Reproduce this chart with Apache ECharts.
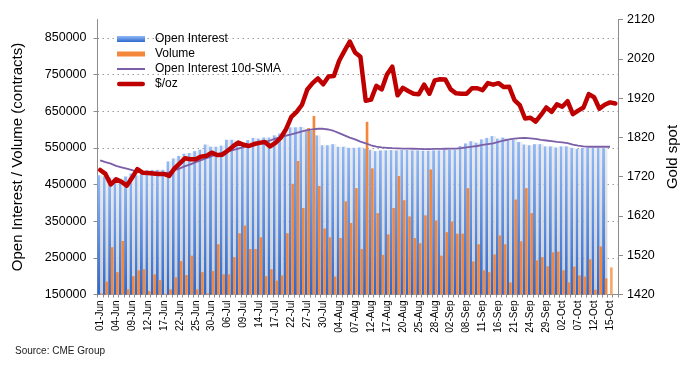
<!DOCTYPE html>
<html><head><meta charset="utf-8">
<script src="https://cdn.jsdelivr.net/npm/echarts@6/dist/echarts.min.js"></script>
<style>html,body{margin:0;padding:0;background:#fff}#c{width:696px;height:375px}</style>
</head><body><div id="c"></div>
<script>
const dates = ['01-Jun','02-Jun','03-Jun','04-Jun','05-Jun','08-Jun','09-Jun','10-Jun','11-Jun','12-Jun','15-Jun','16-Jun','17-Jun','18-Jun','19-Jun','22-Jun','23-Jun','24-Jun','25-Jun','26-Jun','29-Jun','30-Jun',
'01-Jul','02-Jul','06-Jul','07-Jul','08-Jul','09-Jul','10-Jul','13-Jul','14-Jul','15-Jul','16-Jul','17-Jul','20-Jul','21-Jul','22-Jul','23-Jul','24-Jul','27-Jul','28-Jul','29-Jul','30-Jul','31-Jul',
'03-Aug','04-Aug','05-Aug','06-Aug','07-Aug','10-Aug','11-Aug','12-Aug','13-Aug','14-Aug','17-Aug','18-Aug','19-Aug','20-Aug','21-Aug','24-Aug','25-Aug','26-Aug','27-Aug','28-Aug','31-Aug',
'01-Sep','02-Sep','03-Sep','04-Sep','08-Sep','09-Sep','10-Sep','11-Sep','14-Sep','15-Sep','16-Sep','17-Sep','18-Sep','21-Sep','22-Sep','23-Sep','24-Sep','25-Sep','28-Sep','29-Sep','30-Sep',
'01-Oct','02-Oct','05-Oct','06-Oct','07-Oct','08-Oct','09-Oct','12-Oct','13-Oct','14-Oct','15-Oct','16-Oct'];

const openInterest = [475000,472000,469000,469000,466000,472000,480000,475000,480000,489000,
490000,490000,490000,513000,521000,528000,534000,536000,541000,545000,
559000,553000,553000,556000,572000,572000,563000,560000,571000,577000,
575000,578000,578000,584000,589000,600000,606000,606000,607000,600000,
596000,584000,557000,557000,560000,553000,553000,550000,550000,551000,
548000,545000,541000,543000,543000,544000,543000,544000,544000,543000,
543000,542000,542000,543000,543000,545000,545000,545000,555000,562000,
568000,564000,573000,577000,582000,575000,578000,571000,572000,566000,
559000,557000,560000,560000,554000,554000,551000,554000,554000,550000,
547000,550000,550000,550000,550000,549000,null,null];

const volume = [153000,185000,279000,211000,296000,164000,200000,216000,219000,159000,
205000,189000,152000,164000,197000,241000,203000,256000,164000,211000,
153000,214000,287000,205000,205000,252000,317000,338000,274000,274000,
306000,200000,219000,188000,202000,317000,452000,514000,386000,604000,
637000,446000,330000,306000,199000,304000,404000,345000,440000,274000,
621000,494000,372000,258000,314000,386000,473000,407000,363000,304000,
290000,366000,491000,352000,256000,320000,349000,316000,316000,440000,
240000,287000,216000,211000,259000,311000,287000,183000,409000,295000,
440000,372000,243000,252000,227000,265000,267000,216000,183000,226000,
202000,199000,246000,163000,281000,194000,224000,null];

const oiSma = [516000,511000,507000,501000,497000,493000,489000,485000,481000,480500,
480500,480500,481000,483000,489000,494000,500000,505000,511000,516500,
522000,527500,532000,537000,540000,544000,548000,552000,556000,560000,
564000,566500,570000,575000,579000,583000,587000,591000,595000,598000,
600500,602000,602000,600000,596000,590000,584000,578000,573000,567000,
562000,557000,553000,551000,550000,549000,548500,548000,548000,547500,
547000,546500,546500,547000,547000,547500,548000,548000,549000,551000,
553000,555000,558000,560000,562000,566000,570000,573000,575000,576500,
577000,576000,574500,572000,570000,568000,566000,565000,563000,559000,
556000,554000,553000,553000,553000,553000,553000,null];

const goldSpot = [1737,1727,1700,1713,1707,1697,1717,1739,1730,1729,
1728,1727,1727,1722,1741,1754,1767,1764,1764,1771,
1773,1781,1775,1776,1786,1797,1807,1801,1798,1803,
1806,1808,1797,1806,1819,1841,1872,1885,1903,1942,
1958,1970,1955,1975,1976,2015,2040,2064,2036,2025,
1913,1916,1951,1942,1980,2000,1927,1946,1938,1931,
1930,1954,1931,1965,1968,1967,1942,1932,1931,1931,
1945,1945,1940,1958,1954,1958,1948,1949,1915,1902,
1868,1870,1860,1877,1896,1885,1904,1898,1912,1879,
1888,1896,1930,1922,1893,1903,1909,1906];

const leftRange = [150000, 900000];
const leftStep = 100000;
const rightRange = [1420, 2120];
const rightStep = 100;
const seriesNames = ['Open Interest', 'Volume', 'Open Interest 10d-SMA', '$/oz'];
const sourceText = 'Source: CME Group';

const FONT = '"Liberation Sans", Arial, Helvetica, sans-serif';
const ORANGE = '#f5873a';
const PURPLE = '#7b5ea8';
const RED = '#bf0000';
const blueGrad = new echarts.graphic.LinearGradient(0, 0, 0, 1, [
  {offset: 0, color: '#92b9f6'}, {offset: 1, color: '#2c68cf'}]);
const grayGrad = new echarts.graphic.LinearGradient(0, 0, 0, 1, [
  {offset: 0, color: '#ebebeb'}, {offset: 1, color: '#cbcbcb'}]);
let lastVol = 0;
volume.forEach((v, i) => { if (v != null) lastVol = i; });
const plain = v => String(v);

const chart = echarts.init(document.getElementById('c'), null, {renderer: 'canvas'});
chart.setOption({
  animation: false,
  textStyle: {fontFamily: FONT},
  grid: {left: 97.5, right: 78, top: 19.5, bottom: 80.5},
  legend: {
    orient: 'vertical', left: 112, top: 28, itemWidth: 28, itemHeight: 7, itemGap: 3,
    textStyle: {fontSize: 12, color: '#000', fontFamily: FONT, padding: [0, 0, 0, 5]},
    data: [
      {name: seriesNames[0], icon: 'path://M0,0 H28 V6 H0 Z'},
      {name: seriesNames[1], icon: 'path://M0,0 H28 V5 H0 Z', itemStyle: {color: ORANGE}},
      {name: seriesNames[2], icon: 'path://M0,0 H28 V2 H0 Z'},
      {name: seriesNames[3], icon: 'path://M2.2,0 H25.8 A2.2,2.2 0 0 1 25.8,4.4 H2.2 A2.2,2.2 0 0 1 2.2,0 Z'}
    ]
  },
  xAxis: [{
    type: 'category', data: dates, boundaryGap: true, gridIndex: 0,
    axisLine: {lineStyle: {color: '#8c8c8c', width: 1}},
    axisTick: {show: true, interval: 0, length: 3, lineStyle: {color: '#8c8c8c'}},
    axisLabel: {interval: 2, rotate: 90, fontSize: 10, color: '#000', margin: 6, fontFamily: FONT},
    splitLine: {show: false}
  }, {
    type: 'category', data: dates, boundaryGap: true, gridIndex: 0, show: false
  }],
  yAxis: [{
    type: 'value', min: leftRange[0], max: leftRange[1], interval: leftStep, position: 'left',
    name: 'Open Interest / Volume (contracts)', nameLocation: 'middle', nameGap: 72,
    nameTextStyle: {fontSize: 15, color: '#000', fontFamily: FONT},
    axisLine: {show: true, lineStyle: {color: '#8c8c8c'}},
    axisTick: {show: true, length: 4, lineStyle: {color: '#8c8c8c'}},
    axisLabel: {fontSize: 12.5, color: '#000', showMaxLabel: false, margin: 11, fontFamily: FONT, formatter: plain},
    splitLine: {show: true, showMinLine: false, showMaxLine: false,
      lineStyle: {type: [1.5, 3.5], color: '#9a9a9a', width: 1}}
  }, {
    type: 'value', min: rightRange[0], max: rightRange[1], interval: rightStep, position: 'right',
    name: 'Gold spot', nameLocation: 'middle', nameGap: 47,
    nameTextStyle: {fontSize: 15, color: '#000', fontFamily: FONT},
    axisLine: {show: true, lineStyle: {color: '#8c8c8c'}},
    axisTick: {show: true, length: 5, lineStyle: {color: '#8c8c8c'}},
    axisLabel: {fontSize: 12.5, color: '#000', margin: 9, fontFamily: FONT, formatter: plain},
    splitLine: {show: false}
  }],
  series: [
    {name: seriesNames[0], type: 'bar', xAxisIndex: 0, yAxisIndex: 0, data: openInterest,
      barWidth: '55%', barGap: '0%', itemStyle: {color: blueGrad}},
    {name: 'oi-shade', type: 'bar', xAxisIndex: 0, yAxisIndex: 0, data: openInterest,
      barWidth: '45%', barGap: '0%', itemStyle: {color: grayGrad}, silent: true},
    {name: 'pad', type: 'bar', xAxisIndex: 1, yAxisIndex: 0, data: [],
      barWidth: '50%', barGap: '0%'},
    {name: seriesNames[1], type: 'bar', xAxisIndex: 1, yAxisIndex: 0, data: volume,
      barWidth: '50%', barGap: '0%',
      itemStyle: {color: p => p.dataIndex === lastVol ? '#f6a86c' : ORANGE}},
    {name: seriesNames[2], type: 'line', xAxisIndex: 0, yAxisIndex: 0, data: oiSma,
      symbol: 'none', z: 4, lineStyle: {color: PURPLE, width: 1.8}, itemStyle: {color: PURPLE}},
    {name: seriesNames[3], type: 'line', xAxisIndex: 0, yAxisIndex: 1, data: goldSpot,
      symbol: 'none', z: 5, lineStyle: {color: RED, width: 4.5, join: 'round', cap: 'round'},
      itemStyle: {color: RED}}
  ],
  graphic: [{type: 'text', left: 15, top: 346,
    style: {text: sourceText, fontSize: 10, fill: '#222', fontFamily: FONT}}]
});
</script></body></html>
